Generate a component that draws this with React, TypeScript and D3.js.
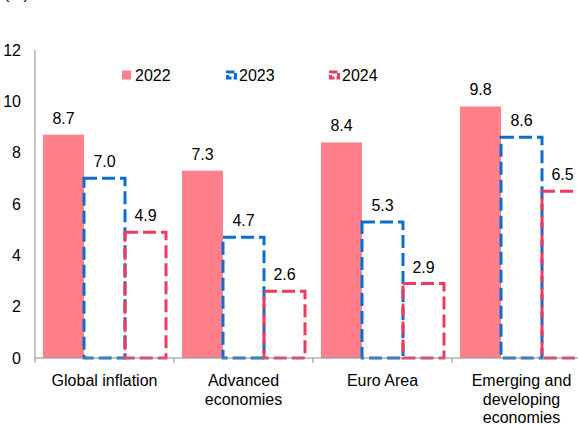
import React, { useRef, useEffect } from 'react';
import * as d3 from 'd3';

const CATEGORIES = ['Global inflation', 'Advanced economies', 'Euro Area', 'Emerging and developing economies'];
const CATEGORY_LINES = [['Global inflation'], ['Advanced', 'economies'], ['Euro Area'], ['Emerging and', 'developing', 'economies']];
const YEARS = ['2022', '2023', '2024'];
const VALUES_2022 = [8.7, 7.3, 8.4, 9.8];
const VALUES_2023 = [7.0, 4.7, 5.3, 8.6];
const VALUES_2024 = [4.9, 2.6, 2.9, 6.5];
const Y_TICKS = [0, 2, 4, 6, 8, 10, 12];

const W = 578;
const H = 425;
const FONT = 'Liberation Sans, Arial, sans-serif';
const FS = 16;
const PINK = '#FF7F8A';
const BLUE = '#0A6ECF';
const RED = '#F0395E';

export default function App() {
  const svgRef = useRef<SVGSVGElement>(null);

  useEffect(() => {
    if (!svgRef.current) return;
    const svg = d3.select(svgRef.current);
    svg.selectAll('*').remove();

    const left = 35;
    const top = 50;
    const bottom = 358;
    // plot runs past the right edge of the frame, as in the source
    const right = 591;

    const x = d3.scaleBand<string>().domain(CATEGORIES).range([left, right]);
    const y = d3.scaleLinear().domain([0, 12]).range([bottom, top]);
    const inner = 8;
    const barW = (x.bandwidth() - inner * 2) / 3;

    // unit label, cut off at top like the source
    svg.append('text')
      .attr('x', 4).attr('y', -1)
      .attr('font-family', FONT).attr('font-size', FS)
      .text('(%)');

    // y tick labels
    Y_TICKS.forEach((t) => {
      svg.append('text')
        .attr('x', 21).attr('y', y(t))
        .attr('text-anchor', 'end')
        .attr('dominant-baseline', 'central')
        .attr('font-family', FONT).attr('font-size', FS)
        .attr('fill', '#000')
        .text(t);
    });

    const series = [
      { year: '2022', values: VALUES_2022 },
      { year: '2023', values: VALUES_2023 },
      { year: '2024', values: VALUES_2024 },
    ];

    // 2022 filled bars
    CATEGORIES.forEach((c, i) => {
      const x0 = (x(c) ?? 0) + inner;
      svg.append('rect')
        .attr('x', x0).attr('y', y(VALUES_2022[i]))
        .attr('width', barW).attr('height', bottom - y(VALUES_2022[i]))
        .attr('fill', PINK);
    });

    // 2023 / 2024 dashed outline bars
    [1, 2].forEach((k) => {
      const s = series[k];
      const color = k === 1 ? BLUE : RED;
      CATEGORIES.forEach((c, i) => {
        const x0 = (x(c) ?? 0) + inner + barW * k;
        svg.append('rect')
          .attr('x', x0).attr('y', y(s.values[i]))
          .attr('width', barW).attr('height', bottom - y(s.values[i]))
          .attr('fill', 'none')
          .attr('stroke', color)
          .attr('stroke-width', 3)
          .attr('stroke-dasharray', '13,5');
      });
    });

    // value labels
    series.forEach((s, k) => {
      CATEGORIES.forEach((c, i) => {
        const cx = (x(c) ?? 0) + inner + barW * k + barW / 2;
        svg.append('text')
          .attr('x', cx).attr('y', y(s.values[i]) - 11)
          .attr('text-anchor', 'middle')
          .attr('font-family', FONT).attr('font-size', FS)
          .text(s.values[i].toFixed(1));
      });
    });

    // axes
    svg.append('line')
      .attr('x1', left).attr('x2', left).attr('y1', top).attr('y2', bottom)
      .attr('stroke', '#8c8c8c').attr('stroke-width', 1);
    svg.append('line')
      .attr('x1', left).attr('x2', W).attr('y1', bottom).attr('y2', bottom)
      .attr('stroke', '#8c8c8c').attr('stroke-width', 1);
    CATEGORIES.forEach((c) => {
      const tx = x(c) ?? 0;
      svg.append('line')
        .attr('x1', tx).attr('x2', tx).attr('y1', bottom).attr('y2', bottom + 5)
        .attr('stroke', '#8c8c8c');
    });

    // category labels
    CATEGORIES.forEach((c, i) => {
      const cx = (x(c) ?? 0) + x.bandwidth() / 2;
      CATEGORY_LINES[i].forEach((line, j) => {
        svg.append('text')
          .attr('x', cx).attr('y', 386 + j * 18.5)
          .attr('text-anchor', 'middle')
          .attr('font-family', FONT).attr('font-size', FS)
          .text(line);
      });
    });

    // legend
    const legendX = [122, 226, 329];
    YEARS.forEach((yr, k) => {
      const lx = legendX[k];
      const ly = 75;
      if (k === 0) {
        svg.append('rect').attr('x', lx).attr('y', ly - 4.5).attr('width', 9).attr('height', 9).attr('fill', PINK);
      } else {
        const color = k === 1 ? BLUE : RED;
        svg.append('rect')
          .attr('x', lx + 1.5).attr('y', ly - 3).attr('width', 8).attr('height', 6)
          .attr('fill', 'none').attr('stroke', color).attr('stroke-width', 3)
          .attr('stroke-dasharray', '7,2');
      }
      svg.append('text')
        .attr('x', lx + 13).attr('y', ly)
        .attr('dominant-baseline', 'central')
        .attr('font-family', FONT).attr('font-size', FS)
        .text(yr);
    });
  }, []);

  return (
    <svg
      ref={svgRef}
      width={W}
      height={H}
      style={{ position: 'fixed', left: 0, top: 0, background: '#fff', overflow: 'hidden' }}
    />
  );
}
